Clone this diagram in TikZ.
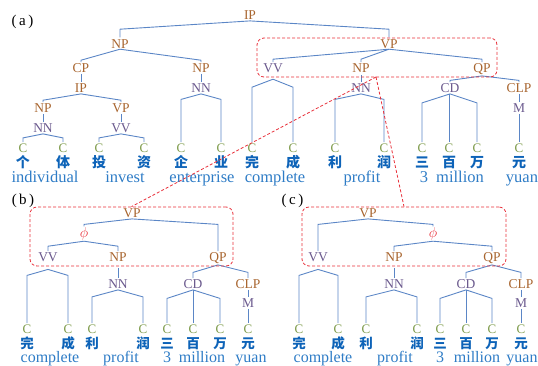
\documentclass[tikz,border=0pt]{standalone}
\usepackage{fontspec}
\setmainfont{Liberation Serif}
\newfontfamily\cjk{Noto Sans CJK SC}
\usetikzlibrary{calc}
\definecolor{phc}{HTML}{A8652F}
\definecolor{posc}{HTML}{6B5A8E}
\definecolor{cc}{HTML}{7E9B4B}
\definecolor{zhc}{HTML}{0D63B8}
\definecolor{enc}{HTML}{2E7CC6}
\definecolor{edgec}{HTML}{5B86C6}
\definecolor{redc}{HTML}{E8303A}
\tikzset{
 lab/.style={anchor=base, inner sep=1pt, text height=9.5pt, text depth=0pt, font={\fontsize{13.5}{15}\selectfont}},
 phl/.style={lab, text=phc},
 tagl/.style={lab, text=posc},
 cnode/.style={lab, text=cc, font={\fontsize{13}{15}\selectfont}},
 zh/.style={anchor=base, inner sep=0pt, text height=11pt, text depth=0pt, text=zhc, font={\cjk\bfseries\fontsize{14}{16}\selectfont}},
 zhlow/.style={zh, text height=10.5pt, font={\cjk\bfseries\fontsize{13.5}{16}\selectfont}},
 en/.style={anchor=base, inner sep=0pt, text height=11.5pt, text depth=3.5pt, text=enc, font={\fontsize{16.5}{18}\selectfont}},
 enlow/.style={en, text height=11pt, font={\fontsize{16}{18}\selectfont}},
 phinode/.style={anchor=base, inner sep=1pt, text height=9.7pt, text depth=2.7pt, text=redc, font={\fontsize{14.5}{16}\selectfont}},
 edge/.style={draw=edgec, line width=0.9pt},
 redbox/.style={draw=redc, dash pattern=on 3pt off 2pt, line width=0.8pt, rounded corners=7pt, inner sep=0pt},
 redline/.style={draw=redc, dash pattern=on 3pt off 2pt, line width=0.8pt},
 paneltag/.style={anchor=center, inner sep=0pt, text=black, font={\fontsize{15}{17}\selectfont}},
}
\newcommand\tredge[3]{\draw[edge] let \p1=(#1.south), \p2=(#2.north) in (\p1) -- (\x2,\y1-#3pt) -- (\p2);}
\newcommand\vtedge[2]{\draw[edge] (#2.north |- #1.south) -- (#2.north);}
\begin{document}
\begin{tikzpicture}[x=1pt,y=-1pt]
\useasboundingbox (0,0) rectangle (538,365);
% tags
\node[paneltag] (ta) at (22.5,22) {(\,a\,)};
\node[paneltag] (tb) at (23,200.5) {(\,b\,)};
\node[paneltag] (tc) at (292.5,200.5) {(\,c\,)};
% ---------------- (a)
\node[phl] (aIP) at (250,19.7) {IP};
\node[phl] (aNP) at (120,48) {NP};
\node[phl] (aVP) at (389,48) {VP};
\node[phl] (aCP) at (81,72.7) {CP};
\node[phl] (aNPe) at (201,72.7) {NP};
\node[tagl, text depth=5.3pt] (aVV) at (273,72.7) {VV};
\node[phl, text depth=1pt] (aNPp) at (361,72.7) {NP};
\node[phl, text depth=2pt] (aQP) at (482,72.7) {QP};
\node[phl] (aIPs) at (81,92.7) {IP};
\node[tagl] (aNNe) at (201,92.7) {NN};
\node[tagl] (aNNp) at (361,92.7) {NN};
\node[tagl] (aCD) at (450,92.7) {CD};
\node[phl] (aCLP) at (519,92.7) {CLP};
\node[phl] (aNPi) at (43,112.7) {NP};
\node[phl] (aVPi) at (121,112.7) {VP};
\node[tagl] (aM) at (519,112.7) {M};
\node[tagl] (aNNi) at (43,132.7) {NN};
\node[tagl] (aVVi) at (121,132.7) {VV};
\foreach \x/\ch [count=\i] in {23/个,63/体,99/投,144/资,181/企,221/业,252/完,293/成,335/利,384/润,422/三,449/百,477/万,519/元}{
  \node[cnode] (aC\i) at (\x,152.7) {C};
  \node[zh] (aZ\i) at (\x,167.5) {\ch};
}
\node[en] (aE1) at (45,182.5) {individual};
\node[en] (aE2) at (125,182.5) {invest};
\node[en] (aE3) at (202,182.5) {enterprise};
\node[en] (aE4) at (275,182.5) {complete};
\node[en] (aE5) at (362,182.5) {profit};
\node[en] (aE6) at (424,182.5) {3};
\node[en] (aE7) at (460,182.5) {million};
\node[en] (aE8) at (522,182.5) {yuan};
\tredge{aIP}{aNP}{8.3} \tredge{aIP}{aVP}{8.3}
\tredge{aNP}{aCP}{11} \tredge{aNP}{aNPe}{11}
\vtedge{aCP}{aIPs}
\tredge{aIPs}{aNPi}{6.3} \tredge{aIPs}{aVPi}{6.3}
\vtedge{aNPi}{aNNi} \vtedge{aVPi}{aVVi}
\tredge{aNNi}{aC1}{4} \tredge{aNNi}{aC2}{4}
\tredge{aVVi}{aC3}{4} \tredge{aVVi}{aC4}{4}
\vtedge{aNPe}{aNNe}
\tredge{aNNe}{aC5}{5.5} \tredge{aNNe}{aC6}{5.5}
\tredge{aVP}{aVV}{10} \tredge{aVP}{aNPp}{10} \tredge{aVP}{aQP}{10}
\tredge{aVV}{aC7}{8} \tredge{aVV}{aC8}{8}
\vtedge{aNPp}{aNNp}
\tredge{aNNp}{aC9}{5.5} \tredge{aNNp}{aC10}{5.5}
\tredge{aQP}{aCD}{4.5} \tredge{aQP}{aCLP}{4.5}
\tredge{aCD}{aC11}{9} \vtedge{aCD}{aC12} \tredge{aCD}{aC13}{9}
\vtedge{aCLP}{aM} \vtedge{aM}{aC14}
% ---------------- (b)
\node[phl] (bVP) at (132,217.7) {VP};
\node[phinode] (bphi) at (84,237.3) {$\phi$};
\node[tagl, text depth=6.5pt] (bVV) at (48,261.7) {VV};
\node[phl, text depth=5pt] (bNP) at (118,261.7) {NP};
\node[phl, text depth=2pt] (bQP) at (218,261.7) {QP};
\node[tagl] (bNN) at (118,288.7) {NN};
\node[tagl] (bCD) at (193,288.7) {CD};
\node[phl] (bCLP) at (248,288.7) {CLP};
\node[tagl] (bM) at (248,307.7) {M};
\foreach \x/\ch [count=\i] in {27/完,68/成,92/利,143/润,167/三,193/百,220/万,248/元}{
  \node[cnode] (bC\i) at (\x,333.8) {C};
  \node[zhlow] (bZ\i) at (\x,348) {\ch};
}
\node[enlow] (bE1) at (50,362.3) {complete};
\node[enlow] (bE2) at (121,362.3) {profit};
\node[enlow] (bE3) at (167,362.3) {3};
\node[enlow] (bE4) at (202,362.3) {million};
\node[enlow] (bE5) at (251,362.3) {yuan};
\tredge{bVP}{bphi}{5.5} \tredge{bVP}{bQP}{5.5}
\tredge{bphi}{bVV}{5} \tredge{bphi}{bNP}{5}
\tredge{bVV}{bC1}{6} \tredge{bVV}{bC2}{6}
\vtedge{bNP}{bNN}
\tredge{bNN}{bC3}{7} \tredge{bNN}{bC4}{7}
\tredge{bQP}{bCD}{7.5} \tredge{bQP}{bCLP}{7.5}
\tredge{bCD}{bC5}{8.5} \vtedge{bCD}{bC6} \tredge{bCD}{bC7}{8.5}
\vtedge{bCLP}{bM} \vtedge{bM}{bC8}
% ---------------- (c)
\node[phl] (cVP) at (368,217.7) {VP};
\node[phinode] (cphi) at (433,237.3) {$\phi$};
\node[tagl, text depth=6.5pt] (cVV) at (318,261.7) {VV};
\node[phl, text depth=5pt] (cNP) at (394,261.7) {NP};
\node[phl, text depth=2pt] (cQP) at (492,261.7) {QP};
\node[tagl] (cNN) at (394,288.7) {NN};
\node[tagl] (cCD) at (466,288.7) {CD};
\node[phl] (cCLP) at (521,288.7) {CLP};
\node[tagl] (cM) at (521,307.7) {M};
\foreach \x/\ch [count=\i] in {299/完,338/成,366/利,417/润,440/三,466/百,492/万,521/元}{
  \node[cnode] (cC\i) at (\x,333.8) {C};
  \node[zhlow] (cZ\i) at (\x,348) {\ch};
}
\node[enlow] (cE1) at (323,362.3) {complete};
\node[enlow] (cE2) at (395,362.3) {profit};
\node[enlow] (cE3) at (440,362.3) {3};
\node[enlow] (cE4) at (477,362.3) {million};
\node[enlow] (cE5) at (522,362.3) {yuan};
\tredge{cVP}{cVV}{5.5} \tredge{cVP}{cphi}{5.5}
\tredge{cphi}{cNP}{5} \tredge{cphi}{cQP}{5}
\tredge{cVV}{cC1}{6} \tredge{cVV}{cC2}{6}
\vtedge{cNP}{cNN}
\tredge{cNN}{cC3}{7} \tredge{cNN}{cC4}{7}
\tredge{cQP}{cCD}{7.5} \tredge{cQP}{cCLP}{7.5}
\tredge{cCD}{cC5}{8.5} \vtedge{cCD}{cC6} \tredge{cCD}{cC7}{8.5}
\vtedge{cCLP}{cM} \vtedge{cM}{cC8}
% ---------------- red boxes and links
\node[redbox, minimum width=240pt, minimum height=39pt] (boxa) at (377,57.5) {};
\node[redbox, minimum width=203pt, minimum height=59pt] (boxb) at (131.5,236.5) {};
\node[redbox, minimum width=204pt, minimum height=59pt] (boxc) at (404,236.5) {};
\coordinate (ra) at (376,77);
\draw[redline] (ra) -- (boxb.north);
\draw[redline] (ra) -- (boxc.north);
\end{tikzpicture}
\end{document}
